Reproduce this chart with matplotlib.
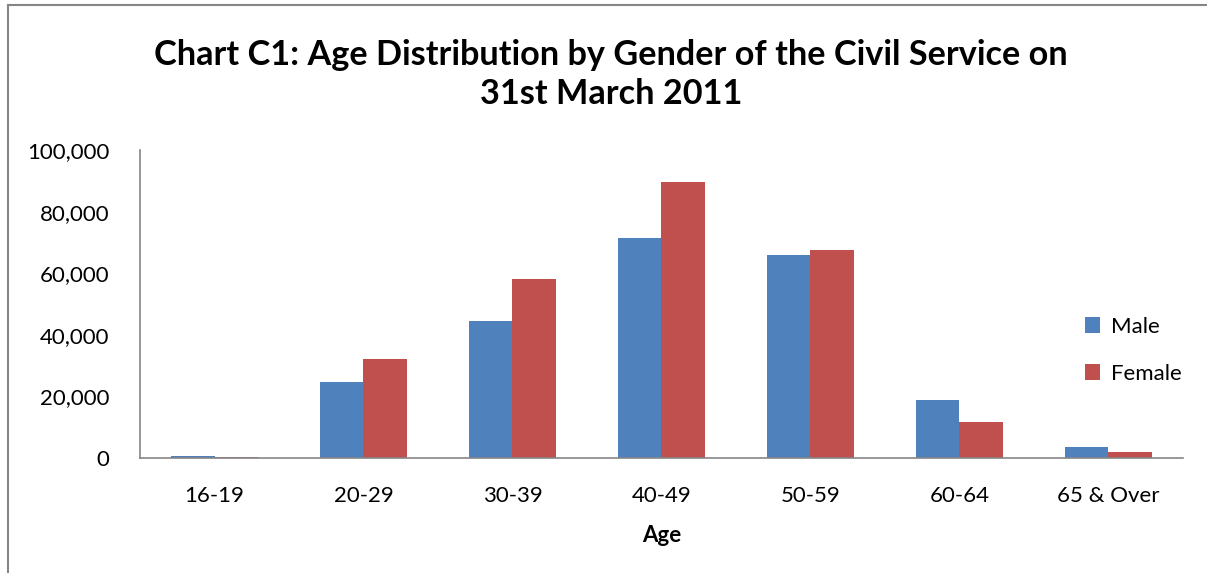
import numpy as np
from matplotlib import pyplot as plt
from matplotlib.lines import Line2D
from matplotlib.ticker import FuncFormatter

plt.rcParams['font.family'] = ['Lato', 'DejaVu Sans']

age_groups = ['16-19', '20-29', '30-39', '40-49', '50-59', '60-64', '65 & Over']
male = [500, 24700, 44500, 71400, 65900, 18800, 3600]
female = [300, 32100, 58100, 89600, 67500, 11700, 2000]

male_color = '#4F81BD'
female_color = '#C0504D'
grey = '#868686'

fig = plt.figure(figsize=(12.07, 5.73), dpi=100)
ax = fig.add_axes([0.116, 0.2007, 0.864, 0.5375])

x = np.arange(len(age_groups))
w = 0.29
ax.bar(x - w / 2, male, width=w, color=male_color, label='Male')
ax.bar(x + w / 2, female, width=w, color=female_color, label='Female')

ax.set_xlim(-0.5, len(age_groups) - 0.5)
ax.set_ylim(0, 100000)
ax.set_yticks(range(0, 100001, 20000))
ax.yaxis.set_major_formatter(FuncFormatter(lambda v, p: f'{int(v):,}'))
ax.set_xticks(x)
ax.set_xticklabels(age_groups)
ax.tick_params(axis='both', length=0, labelsize=16, colors='black')
ax.tick_params(axis='y', pad=22)
ax.tick_params(axis='x', pad=20)

for s in ['top', 'right']:
    ax.spines[s].set_visible(False)
for s in ['left', 'bottom']:
    ax.spines[s].set_color(grey)
    ax.spines[s].set_linewidth(1.2)

ax.set_xlabel('Age', fontsize=16, fontweight='bold', labelpad=14)

fig.text(0.506, 0.870, 'Chart C1: Age Distribution by Gender of the Civil Service on\n31st March 2011',
         ha='center', va='center', fontsize=24.7, fontweight='bold', linespacing=1.3)

ax.legend(loc='center left', bbox_to_anchor=(0.906, 0.35), frameon=False, fontsize=16,
          handlelength=0.7, handleheight=0.7, handletextpad=0.5, labelspacing=1.2,
          borderpad=0, borderaxespad=0)

# chart frame (top and left edges visible)
fig.add_artist(Line2D([0.0066, 0.0066], [0, 0.9913], transform=fig.transFigure, color=grey, lw=1.5))
fig.add_artist(Line2D([0.0066, 1.0], [0.9913, 0.9913], transform=fig.transFigure, color=grey, lw=1.5))

plt.savefig('out.png', dpi=100)
